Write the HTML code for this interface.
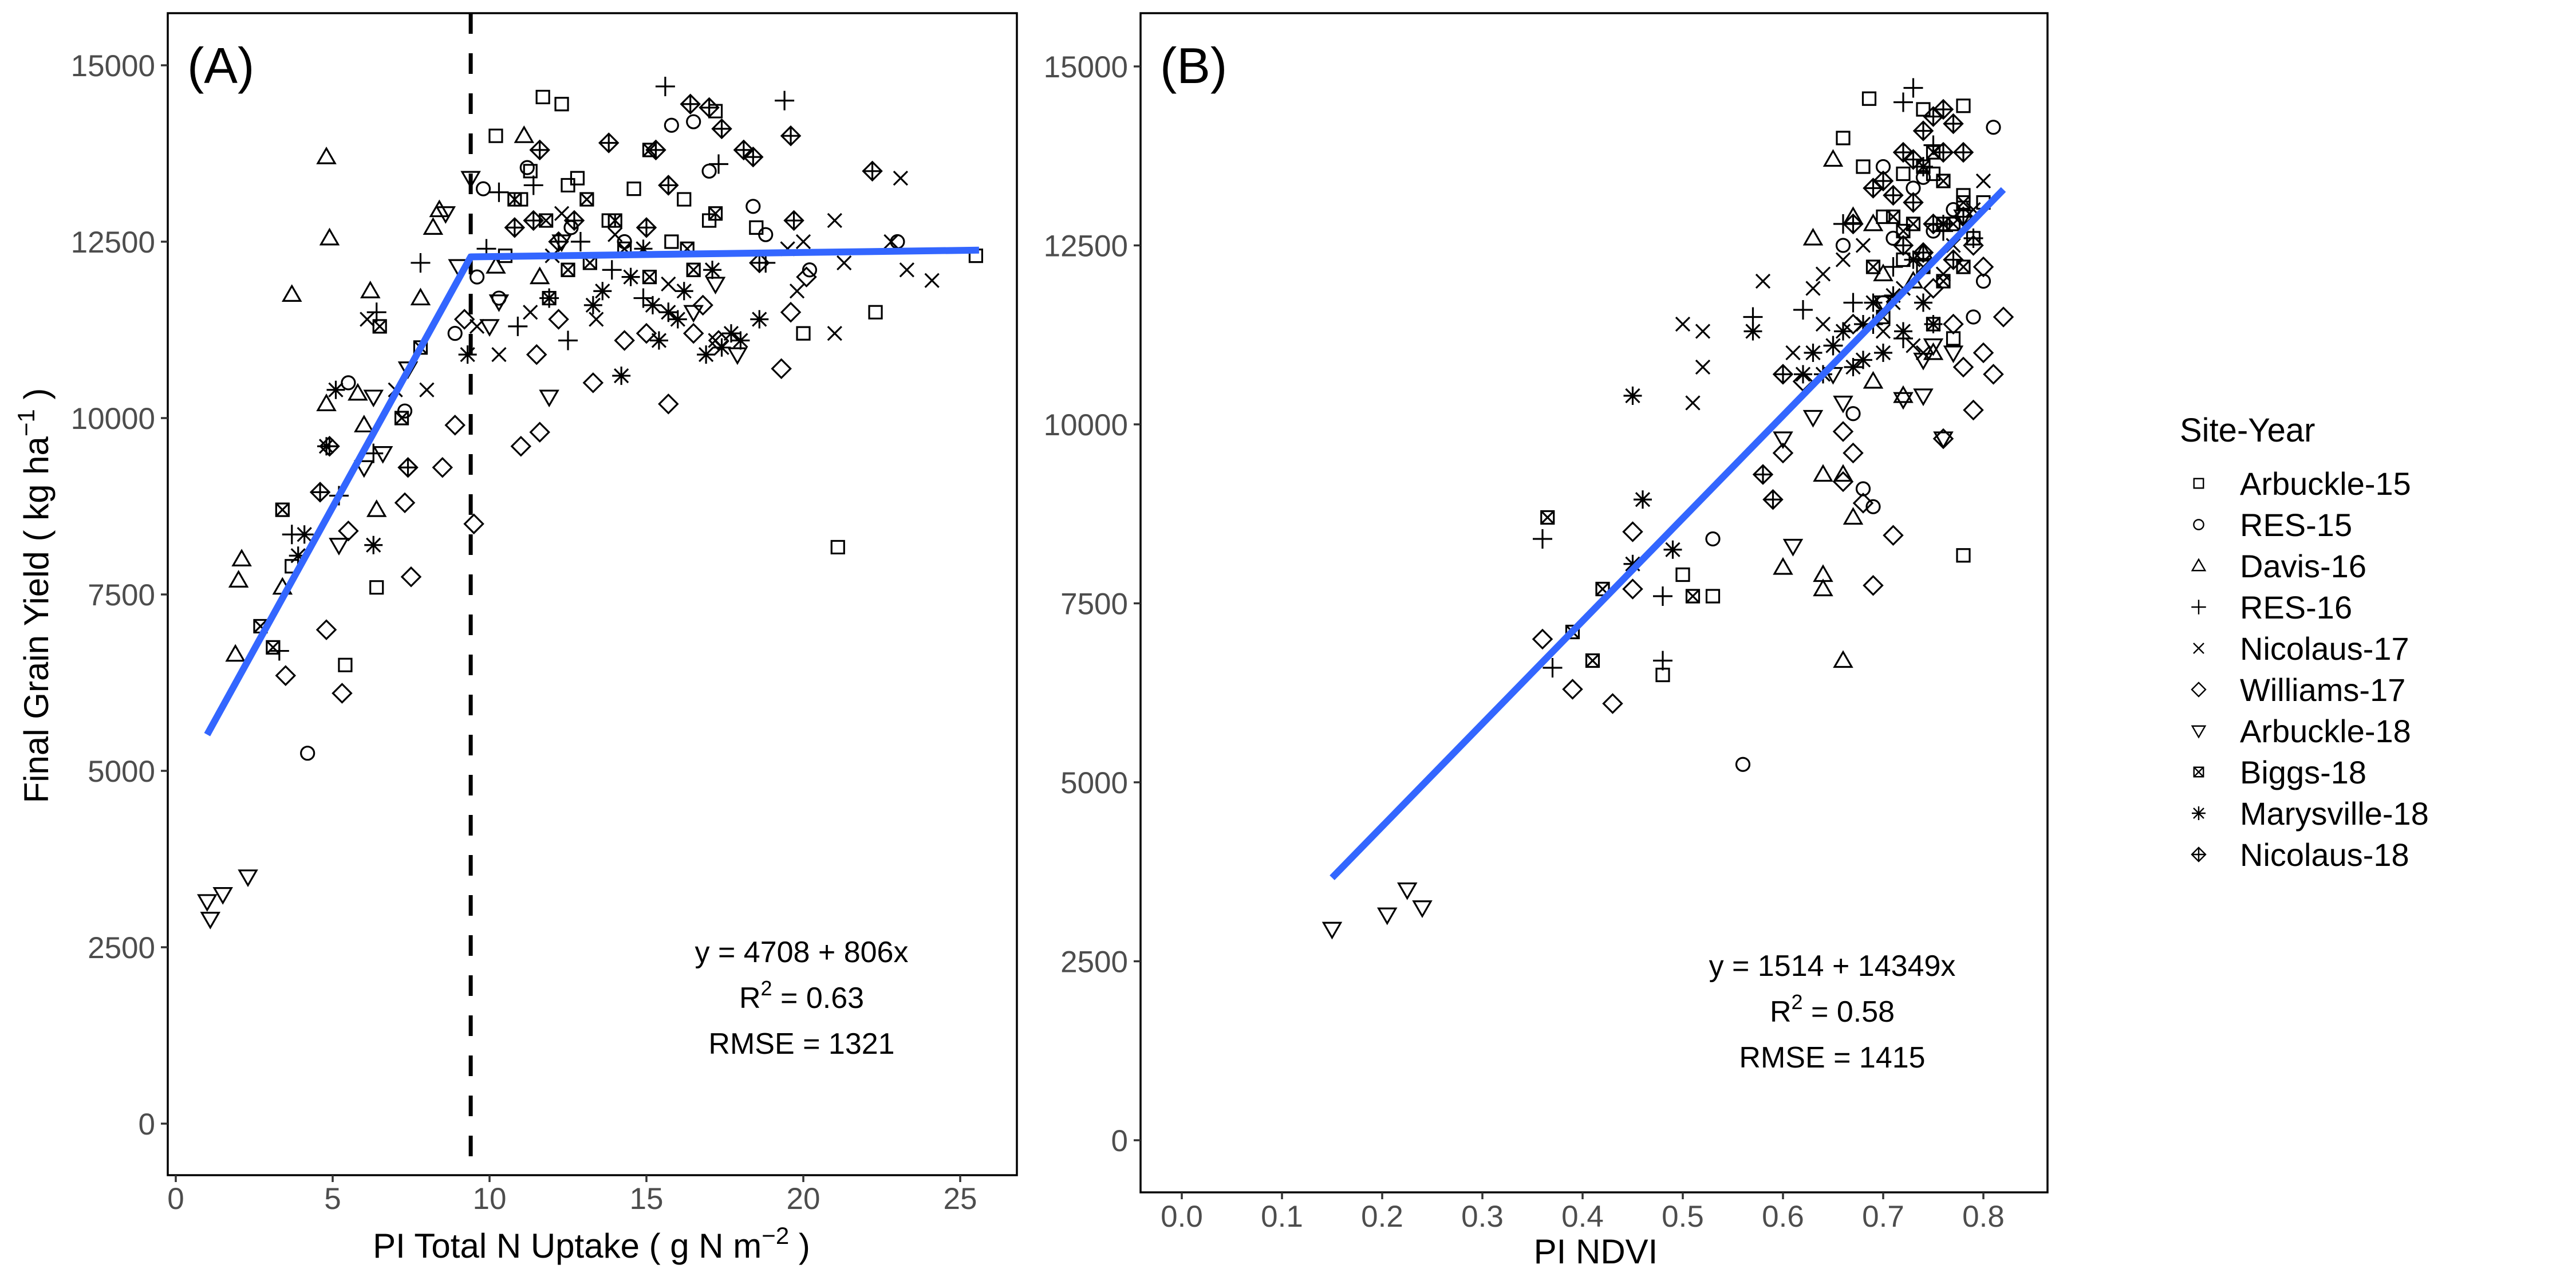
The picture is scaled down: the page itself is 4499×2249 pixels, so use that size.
<!DOCTYPE html>
<html><head><meta charset="utf-8"><style>
html,body{margin:0;padding:0;background:#fff;}
svg{display:block;font-family:"Liberation Sans",Arial,sans-serif;}
</style></head>
<body>
<svg id="chart" width="4499" height="2249" viewBox="0 0 4499 2249" xmlns="http://www.w3.org/2000/svg">
<rect x="0" y="0" width="4499" height="2249" fill="#fff"/>
<g id="layerA"></g>
<g id="layerB"></g>
<g id="legend"></g>
</svg>
<script>
const siteNames = ["Arbuckle-15","RES-15","Davis-16","RES-16","Nicolaus-17","Williams-17","Arbuckle-18","Biggs-18","Marysville-18","Nicolaus-18"];
const shapeKinds = ["square","circle","triangle","plus","cross","diamond","downtri","boxx","star","crossdiamond"];
const xTicksA = [0,5,10,15,20,25];
const xTicksB = [0.0,0.1,0.2,0.3,0.4,0.5,0.6,0.7,0.8];
const xTickLabelsB = ["0.0","0.1","0.2","0.3","0.4","0.5","0.6","0.7","0.8"];
const yTicks = [0,2500,5000,7500,10000,12500,15000];
const fitA = {intercept:4708, slope:806, breakX:9.4, xStart:1.0, xEnd:25.6, plateauEnd:12380};
const fitB = {intercept:1514, slope:14349, xStart:0.15, xEnd:0.82};

// Panel A data: [x, y] per site
const a_arb15 = [[11.7,14550],[10.2,14000],[12.3,14450],[17.2,14350],[11.3,13500],[12.8,13400],[14.6,13250],[16.2,13100],[13.8,12800],[17.0,12800],[18.5,12700],[15.8,12500],[20,11200],[22.3,11500],[25.5,12300],[21.1,8170],[3.7,7900],[6.4,7600],[5.4,6500],[10.5,12300],[12.5,13300],[11.0,13100]];
const a_res15 = [[4.2,5250],[9.8,13250],[11.2,13550],[15.8,14150],[16.5,14200],[18.4,13000],[9.6,12000],[10.3,11700],[7.3,10100],[5.5,10500],[8.9,11200],[12.6,12700],[18.8,12600],[14.3,12500],[20.2,12100],[23,12500],[17,13500]];
const a_dav16 = [[4.8,13700],[4.9,12550],[6.2,11800],[3.7,11750],[8.4,12950],[8.2,12700],[7.8,11700],[4.8,10200],[6.0,9900],[2.1,8000],[2,7700],[6.4,8700],[5.8,10350],[11.1,14000],[11.6,12000],[1.9,6650],[3.4,7600],[10.2,12150]];
const a_res16 = [[15.6,14700],[19.4,14500],[17.3,13600],[11.4,13300],[10.3,13200],[7.8,12200],[6.4,11500],[3.7,8350],[3.3,6700],[11.9,11700],[12.5,11100],[15.7,11500],[14.9,11700],[10.9,11300],[6.3,9500],[5.2,8900],[18.8,12200],[13.9,12100],[12.9,12500],[9.9,12400]];
const a_nic17 = [[21,12800],[22.8,12500],[23.1,13400],[24.1,11950],[23.3,12100],[21.3,12200],[20,12500],[21,11200],[19.5,12400],[14,12600],[12.3,12900],[10.3,10900],[11.3,11500],[9.6,11300],[8.0,10400],[7.0,10400],[6.1,11400],[12,12300],[17.2,11100],[15.7,11900],[13.4,11400],[19.8,11800]];
const a_wil17 = [[9.5,8500],[9.2,11400],[8.9,9900],[7.3,8800],[7.5,7750],[4.8,7000],[5.3,6100],[3.5,6350],[5.5,8400],[8.5,9300],[11.5,10900],[11,9600],[11.6,9800],[14.3,11100],[15.7,10200],[16.5,11200],[17.3,11100],[19.3,10700],[19.6,11500],[13.3,10500],[15,11200],[12.2,11400],[20.1,12000],[16.8,11600]];
const a_arb18 = [[1.0,3150],[1.1,2900],[1.5,3250],[2.3,3500],[9.4,13400],[8.6,12900],[9.0,12150],[10.3,11650],[10.0,11300],[11.9,10300],[7.4,10700],[6.6,9500],[6.3,10300],[6.0,9300],[5.2,8200],[17.9,10900],[16.5,11500],[12.3,12500],[17.2,11900]];
const a_big18 = [[10.8,13100],[12.5,12100],[13.2,12200],[11.9,11700],[14.3,12400],[15.1,12000],[16.3,12400],[17.2,12900],[7.8,11000],[7.2,10000],[3.4,8700],[2.7,7050],[3.1,6750],[6.5,11300],[13.1,13100],[15.1,13800],[14.0,12800],[16.5,12100],[11.8,12800]];
const a_mar18 = [[3.9,8050],[4.1,8350],[4.8,9600],[5.1,10400],[6.3,8200],[9.3,10900],[13.3,11600],[14.2,10600],[14.5,12000],[15.2,11600],[15.4,11100],[15.7,11500],[16.2,11800],[16.9,10900],[17.4,11000],[17.1,12100],[18.6,11400],[14.9,12400],[13.6,11800],[16.0,11400],[17.7,11200],[18.0,11100]];
const a_nic18 = [[4.6,8950],[4.9,9600],[7.4,9300],[10.8,12700],[11.4,12800],[12.2,12500],[11.6,13800],[13.8,13900],[15.3,13800],[15.7,13300],[16.4,14450],[17.0,14400],[18.1,13800],[18.4,13700],[19.6,14000],[19.7,12800],[22.2,13500],[18.6,12200],[12.7,12800],[17.4,14100],[15.0,12700]];

// Panel B data
const b_arb15 = [[0.686,14550],[0.74,14400],[0.78,14450],[0.66,14000],[0.72,13500],[0.75,13500],[0.78,13200],[0.8,13100],[0.76,12800],[0.7,12900],[0.75,11400],[0.77,11200],[0.48,6500],[0.5,7900],[0.53,7600],[0.78,8170],[0.72,12300],[0.79,12600],[0.68,13600]];
const b_res15 = [[0.56,5250],[0.53,8400],[0.68,9100],[0.69,8850],[0.67,10150],[0.81,14150],[0.7,13600],[0.74,13450],[0.77,13000],[0.8,12000],[0.71,12600],[0.75,12700],[0.66,12500],[0.79,11500],[0.7,11700],[0.73,13300]];
const b_dav16 = [[0.65,13700],[0.63,12600],[0.67,12900],[0.7,12100],[0.6,8000],[0.64,7900],[0.64,7700],[0.66,6700],[0.67,8700],[0.69,10600],[0.72,10400],[0.75,11000],[0.74,12400],[0.64,9300],[0.66,9300],[0.69,12800],[0.73,12000]];
const b_res16 = [[0.36,8400],[0.37,6600],[0.48,7600],[0.48,6700],[0.57,11500],[0.62,11600],[0.66,12800],[0.72,14500],[0.73,14700],[0.75,13900],[0.74,13600],[0.71,12200],[0.67,11700],[0.69,11400],[0.72,11200],[0.76,12700],[0.79,12600],[0.65,11100]];
const b_nic17 = [[0.5,11400],[0.52,11300],[0.52,10800],[0.51,10300],[0.58,12000],[0.61,11000],[0.63,11900],[0.64,11400],[0.66,12300],[0.7,11300],[0.71,11700],[0.73,11100],[0.74,11000],[0.77,12500],[0.79,13000],[0.8,13400],[0.76,12100],[0.68,12500],[0.64,12100],[0.72,11900]];
const b_wil17 = [[0.36,7000],[0.39,6300],[0.43,6100],[0.45,8500],[0.45,7700],[0.66,9900],[0.67,9600],[0.66,9200],[0.68,8900],[0.69,7750],[0.71,8450],[0.76,9800],[0.79,10200],[0.81,10700],[0.82,11500],[0.8,12200],[0.79,12500],[0.78,10800],[0.8,11000],[0.77,11400],[0.75,11900],[0.67,11400],[0.62,10600],[0.6,9600]];
const b_arb18 = [[0.15,2950],[0.205,3150],[0.225,3500],[0.24,3250],[0.61,8300],[0.63,10100],[0.6,9800],[0.65,10700],[0.66,10300],[0.72,10350],[0.74,10400],[0.75,11100],[0.77,11000],[0.76,9800],[0.74,10900],[0.7,11700],[0.78,12900]];
const b_big18 = [[0.365,8700],[0.39,7100],[0.41,6700],[0.42,7700],[0.51,7600],[0.72,12700],[0.73,12800],[0.74,12200],[0.76,13400],[0.77,12800],[0.78,12200],[0.75,13800],[0.71,12900],[0.69,12200],[0.7,11500],[0.78,13100],[0.76,12000],[0.74,13600]];
const b_mar18 = [[0.45,10400],[0.46,8950],[0.49,8250],[0.45,8050],[0.57,11300],[0.62,10700],[0.63,11000],[0.65,11100],[0.66,11300],[0.67,10800],[0.68,11400],[0.69,11700],[0.7,11000],[0.72,11300],[0.73,12300],[0.75,11400],[0.76,12800],[0.74,11700],[0.71,11800],[0.64,10700],[0.68,10900]];
const b_nic18 = [[0.59,8950],[0.6,10700],[0.58,9300],[0.7,13400],[0.72,13800],[0.73,13700],[0.74,14100],[0.75,14300],[0.76,14400],[0.77,14200],[0.78,13800],[0.75,12800],[0.74,12400],[0.77,12300],[0.69,13300],[0.71,13200],[0.72,12500],[0.76,13800],[0.78,12900],[0.67,12800],[0.73,13100]];

const seriesA = [a_arb15,a_res15,a_dav16,a_res16,a_nic17,a_wil17,a_arb18,a_big18,a_mar18,a_nic18];
const seriesB = [b_arb15,b_res15,b_dav16,b_res16,b_nic17,b_wil17,b_arb18,b_big18,b_mar18,b_nic18];

const NS = "http://www.w3.org/2000/svg";
function mk(tag, attrs, parent){const e=document.createElementNS(NS,tag);for(const k in attrs)e.setAttribute(k,attrs[k]);parent.appendChild(e);return e;}

// axis functions
const xA = v => 307 + v*54.8;
const yA = v => 1962 - v*0.12320;
const xB = v => 2064 + v*1750;
const yB = v => 1991 - v*0.12500;

function drawShape(g, kind, cx, cy, s){
  const st = {fill:"none",stroke:"#000","stroke-width":3.2};
  const p = (d)=>{const e=mk("path",Object.assign({d:d},st),g);return e;};
  if(kind==="square"){ p(`M${cx-11},${cy-11}h22v22h-22z`); }
  else if(kind==="circle"){ mk("circle",Object.assign({cx:cx,cy:cy,r:11.5},st),g); }
  else if(kind==="triangle"){ p(`M${cx},${cy-15}L${cx+15},${cy+11}L${cx-15},${cy+11}Z`); }
  else if(kind==="downtri"){ p(`M${cx},${cy+15}L${cx+15},${cy-11}L${cx-15},${cy-11}Z`); }
  else if(kind==="plus"){ p(`M${cx-17},${cy}H${cx+17}M${cx},${cy-17}V${cy+17}`); }
  else if(kind==="cross"){ p(`M${cx-12},${cy-12}L${cx+12},${cy+12}M${cx-12},${cy+12}L${cx+12},${cy-12}`); }
  else if(kind==="diamond"){ p(`M${cx},${cy-16}L${cx+16},${cy}L${cx},${cy+16}L${cx-16},${cy}Z`); }
  else if(kind==="boxx"){ p(`M${cx-11},${cy-11}h22v22h-22zM${cx-11},${cy-11}L${cx+11},${cy+11}M${cx-11},${cy+11}L${cx+11},${cy-11}`); }
  else if(kind==="star"){ p(`M${cx-16},${cy}H${cx+16}M${cx},${cy-16}V${cy+16}M${cx-12},${cy-12}L${cx+12},${cy+12}M${cx-12},${cy+12}L${cx+12},${cy-12}`); }
  else if(kind==="crossdiamond"){ p(`M${cx},${cy-16}L${cx+16},${cy}L${cx},${cy+16}L${cx-16},${cy}ZM${cx-16},${cy}H${cx+16}M${cx},${cy-16}V${cy+16}`); }
}

function txt(parent, x, y, s, size, fill, anchor){
  const t = mk("text",{x:x,y:y,"font-size":size,fill:fill,"text-anchor":anchor||"start"},parent);
  t.textContent = s; return t;
}

function drawPanel(layer, fx, fy, box, xticks, xlabels, series, tickLabY){
  // frame
  const fr = mk("rect",{x:box.l,y:box.t,width:box.r-box.l,height:box.b-box.t,fill:"none",stroke:"#000","stroke-width":3.5},layer);
  
  
  // y ticks
  yTicks.forEach(v=>{
    const y=fy(v);
    const tk = mk("line",{x1:box.l-12,x2:box.l,y1:y,y2:y,stroke:"#333","stroke-width":3.5},layer);
    
    
    const t = txt(layer, box.l-22, y+19, String(v), 53, "#4d4d4d", "end");
    
    
  });
  xticks.forEach((v,i)=>{
    const x=fx(v);
    const tk = mk("line",{x1:x,x2:x,y1:box.b,y2:box.b+12,stroke:"#333","stroke-width":3.5},layer);
    
    
    const t = txt(layer, x, tickLabY, xlabels[i], 53, "#4d4d4d", "middle");
    
    
  });
  series.forEach((pts,si)=>{
    const g = mk("g",{},layer);
    
    
    pts.forEach(pt=>{
      const mg = mk("g",{},g);
      
      
      drawShape(mg, shapeKinds[si], fx(pt[0]), fy(pt[1]));
    });
  });
}

const LA = document.getElementById("layerA");
const LB = document.getElementById("layerB");
const boxA = {l:293,r:1776,t:23,b:2052};
const boxB = {l:1992,r:3576,t:23,b:2082};

drawPanel(LA, xA, yA, boxA, xTicksA, xTicksA.map(String), seriesA, 2111);
// dashed break line
const dl = mk("line",{x1:xA(fitA.breakX),x2:xA(fitA.breakX),y1:boxA.t,y2:boxA.b,stroke:"#000","stroke-width":7,"stroke-dasharray":"36 34"},LA);


const breakY = fitA.intercept + fitA.slope*fitA.breakX;
const fa = mk("polyline",{points:`${xA(fitA.xStart)},${yA(fitA.intercept+fitA.slope*fitA.xStart)} ${xA(fitA.breakX)},${yA(breakY)} ${xA(fitA.xEnd)},${yA(fitA.plateauEnd)}`,fill:"none",stroke:"#3366FF","stroke-width":12,"stroke-linejoin":"round"},LA);



drawPanel(LB, xB, yB, boxB, xTicksB, xTickLabelsB, seriesB, 2142);
const fb = mk("line",{x1:xB(fitB.xStart),y1:yB(fitB.intercept+fitB.slope*fitB.xStart),x2:xB(fitB.xEnd),y2:yB(fitB.intercept+fitB.slope*fitB.xEnd),stroke:"#3366FF","stroke-width":12},LB);



// legend
const LG = document.getElementById("legend");
const lt = txt(LG, 3807, 771, "Site-Year", 58, "#000");


siteNames.forEach((n,i)=>{
  const y = 844 + i*72;
  const g = mk("g",{},LG);
  
  
  const sg = mk("g",{transform:`translate(3840,${y}) scale(0.75) translate(-3840,${-y})`},g);
  drawShape(sg, shapeKinds[i], 3840, y);
  txt(g, 3912, y+20, n, 56, "#000");
});
</script>
<svg style="position:absolute;left:0;top:0" width="4499" height="2249" xmlns="http://www.w3.org/2000/svg" font-family="Liberation Sans, Arial, sans-serif">
<text x="327" y="145" font-size="88">(A)</text>
<text x="2026" y="145" font-size="88">(B)</text>
<text x="1400" y="1680" font-size="52" text-anchor="middle">y = 4708 + 806x</text>
<text x="1400" y="1760" font-size="52" text-anchor="middle">R<tspan dy="-22" font-size="36">2</tspan><tspan dy="22"> = 0.63</tspan></text>
<text x="1400" y="1840" font-size="52" text-anchor="middle">RMSE = 1321</text>
<text x="3200" y="1704" font-size="52" text-anchor="middle">y = 1514 + 14349x</text>
<text x="3200" y="1784" font-size="52" text-anchor="middle">R<tspan dy="-22" font-size="36">2</tspan><tspan dy="22"> = 0.58</tspan></text>
<text x="3200" y="1864" font-size="52" text-anchor="middle">RMSE = 1415</text>
<text x="1033" y="2196" font-size="60" text-anchor="middle">PI Total N Uptake ( g N m<tspan dy="-24" font-size="42">−2</tspan><tspan dy="24"> )</tspan></text>
<text x="2787" y="2206" font-size="60" text-anchor="middle">PI NDVI</text>
<text transform="translate(84,1040) rotate(-90)" font-size="60" text-anchor="middle">Final Grain Yield ( kg ha<tspan dy="-24" font-size="42">−1</tspan><tspan dy="24"> )</tspan></text>
</svg>
</body></html>
